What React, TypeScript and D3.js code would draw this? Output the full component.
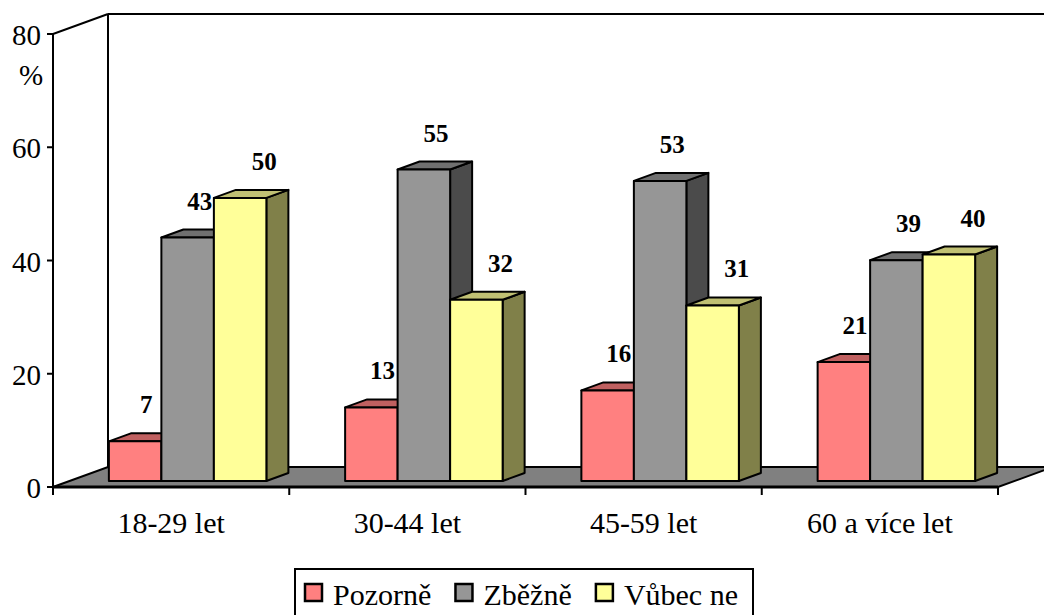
import * as d3 from "d3";

const W = 1044;
const H = 615;

// chart frame (front plane) + depth of the 3d box
const LEFT = 53;
const RIGHT = 998;
const Y0 = 487;
const Y80 = 34;
const DX = 55;
const DY = -20;
const BAR_FRONT = 0.3;
const BAR_DEPTH = 0.4;

const CATEGORIES = ["18-29 let", "30-44 let", "45-59 let", "60 a více let"];
const SERIES = ["Pozorně", "Zběžně", "Vůbec ne"];
const POZORNE = [7, 13, 16, 21];
const ZBEZNE = [43, 55, 53, 39];
const VUBEC_NE = [50, 32, 31, 40];
const Y_TICKS = [0, 20, 40, 60, 80];

const VALUES = [POZORNE, ZBEZNE, VUBEC_NE];

const COLORS = [
  { front: "#FF8080", top: "#C06060", side: "#804040" },
  { front: "#969696", top: "#707070", side: "#4B4B4B" },
  { front: "#FFFF99", top: "#C0C073", side: "#808049" },
];
// label nudges per series (excel moves them a bit)
const LABEL_DX = [0, 1, 13];

const FONT = "'Liberation Serif', 'Times New Roman', Times, 'DejaVu Serif', 'Noto Serif', serif";

const measure = (txt: string, font: string) => {
  const ctx = document.createElement("canvas").getContext("2d");
  if (!ctx) return txt.length * 14;
  ctx.font = font;
  return ctx.measureText(txt).width;
};

export default function App() {
  const x = d3.scaleBand<string>().domain(CATEGORIES).range([LEFT, RIGHT]).padding(0);
  const inner = d3
    .scaleBand<string>()
    .domain(SERIES)
    .range([0, x.bandwidth()])
    .paddingInner(0)
    .paddingOuter(0.75);
  const y = d3.scaleLinear().domain([0, 80]).range([Y0, Y80]);

  const bw = inner.bandwidth();
  const fdx = DX * BAR_FRONT;
  const fdy = DY * BAR_FRONT;
  const ddx = DX * BAR_DEPTH;
  const ddy = DY * BAR_DEPTH;
  const pts = (p: number[][]) => p.map((d) => d.join(",")).join(" ");

  const bars: JSX.Element[] = [];
  const labels: JSX.Element[] = [];
  CATEGORIES.forEach((cat, ci) => {
    SERIES.forEach((s, si) => {
      const v = VALUES[si][ci];
      const c = COLORS[si];
      const x0 = (x(cat) ?? 0) + (inner(s) ?? 0) + fdx;
      const x1 = x0 + bw;
      const yb = y(0) + fdy;
      const yt = y(v) + fdy;
      bars.push(
        <g key={cat + s} stroke="#000" strokeWidth={2} strokeLinejoin="round">
          <polygon points={pts([[x1, yt], [x1 + ddx, yt + ddy], [x1 + ddx, yb + ddy], [x1, yb]])} fill={c.side} />
          <polygon points={pts([[x0, yt], [x1, yt], [x1 + ddx, yt + ddy], [x0 + ddx, yt + ddy]])} fill={c.top} />
          <rect x={x0} y={yt} width={bw} height={yb - yt} fill={c.front} />
        </g>
      );
      labels.push(
        <text
          key={"l" + cat + s}
          x={x0 + bw / 2 + ddx / 2 + LABEL_DX[si]}
          y={yt + ddy - 20}
          textAnchor="middle"
          style={{ fontFamily: FONT, fontWeight: "bold", fontSize: 25 }}
        >
          {v}
        </text>
      );
    });
  });

  // legend layout: spread items over the box like the original
  const legendFont = `30px ${FONT}`;
  const widths = SERIES.map((s) => measure(s, legendFont));
  const legendStart = 305;
  const legendEnd = 738;
  const used = widths.reduce((a, b) => a + b, 0) + SERIES.length * 28;
  const gap = Math.max(14, (legendEnd - legendStart - used) / (SERIES.length - 1));
  const items: { name: string; x: number; color: string }[] = [];
  let lx = legendStart;
  SERIES.forEach((s, i) => {
    items.push({ name: s, x: lx, color: COLORS[i].front });
    lx += 28 + widths[i] + gap;
  });

  const catTicks = d3.range(CATEGORIES.length + 1).map((i) => LEFT + i * x.step());
  const txt = { fontFamily: FONT, fontSize: 29 };

  return (
    <svg
      width={W}
      height={H}
      viewBox={`0 0 ${W} ${H}`}
      style={{ position: "absolute", left: 0, top: 0, background: "#fff" }}
    >
      {/* floor */}
      <polygon
        points={pts([[LEFT, Y0], [RIGHT, Y0], [RIGHT + DX, Y0 + DY], [LEFT + DX, Y0 + DY]])}
        fill="#808080"
        stroke="#000"
        strokeWidth={2}
      />
      <line x1={LEFT} x2={RIGHT} y1={Y0} y2={Y0} stroke="#000" strokeWidth={3} />

      {/* walls */}
      <g stroke="#000" strokeWidth={2} fill="none">
        <line x1={LEFT} x2={LEFT + DX} y1={Y80} y2={Y80 + DY} />
        <line x1={LEFT + DX} x2={LEFT + DX} y1={Y80 + DY} y2={Y0 + DY} />
        <line x1={LEFT + DX} x2={RIGHT + DX} y1={Y80 + DY} y2={Y80 + DY} />
        <line x1={LEFT} x2={LEFT} y1={Y80} y2={Y0} />
      </g>

      {/* y axis */}
      {Y_TICKS.map((t) => (
        <g key={t}>
          <line x1={LEFT - 6} x2={LEFT} y1={y(t)} y2={y(t)} stroke="#000" strokeWidth={2} />
          <text x={LEFT - 12} y={y(t) + 11} textAnchor="end" style={txt}>
            {t}
          </text>
        </g>
      ))}
      <text x={31} y={85} textAnchor="middle" style={txt}>
        %
      </text>

      {/* category axis */}
      {catTicks.map((t) => (
        <line key={t} x1={t} x2={t} y1={Y0} y2={Y0 + 8} stroke="#000" strokeWidth={2} />
      ))}
      {CATEGORIES.map((c) => (
        <text
          key={c}
          x={(x(c) ?? 0) + x.bandwidth() / 2}
          y={533}
          textAnchor="middle"
          style={{ fontFamily: FONT, fontSize: 30 }}
        >
          {c}
        </text>
      ))}

      {bars}
      {labels}

      {/* legend */}
      <rect x={295} y={569} width={458} height={60} fill="#fff" stroke="#000" strokeWidth={2} />
      {items.map((it) => (
        <g key={it.name}>
          <rect x={it.x} y={584} width={17} height={17} fill={it.color} stroke="#000" strokeWidth={2.5} />
          <text x={it.x + 28} y={605} style={{ fontFamily: FONT, fontSize: 30 }}>
            {it.name}
          </text>
        </g>
      ))}
    </svg>
  );
}
